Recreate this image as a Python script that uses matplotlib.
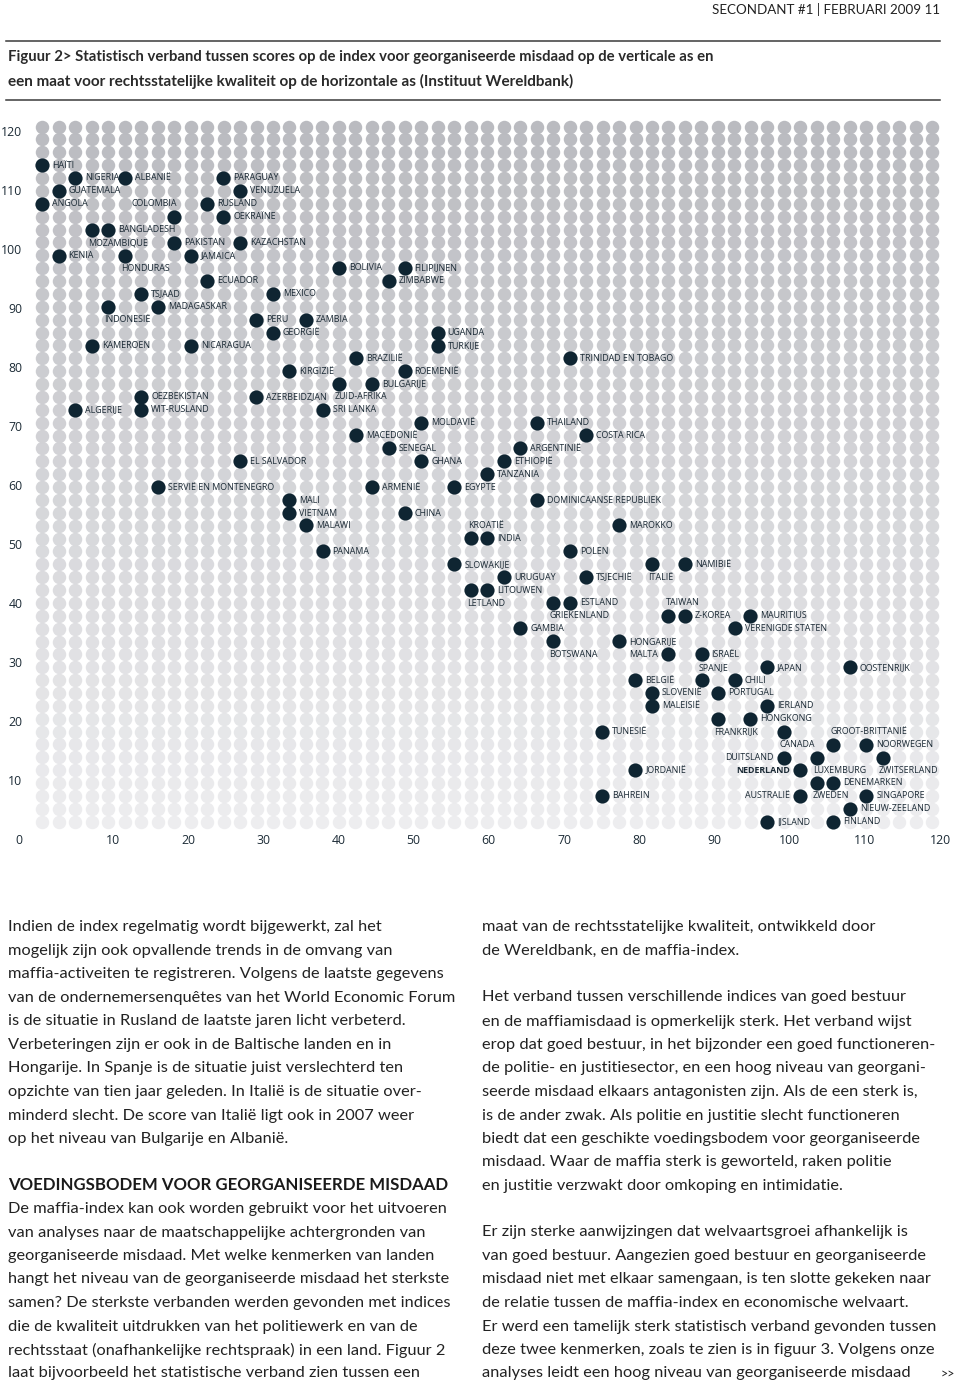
import matplotlib
matplotlib.use("Agg")
import matplotlib.pyplot as plt
from matplotlib.lines import Line2D
import numpy as np

# --- data: rule-of-law score (x) and mafia index (y) per country ---
countries = [
    "HAÏTI", "NIGERIA", "ALBANIË", "PARAGUAY", "GUATEMALA", "VENUZUELA", "ANGOLA",
    "COLOMBIA", "RUSLAND", "OEKRAÏNE", "MOZAMBIQUE", "BANGLADESH", "PAKISTAN",
    "KAZACHSTAN", "KENIA", "HONDURAS", "JAMAICA", "BOLIVIA", "FILIPIJNEN", "ECUADOR",
    "ZIMBABWE", "TSJAAD", "MEXICO", "MADAGASKAR", "INDONESIË", "PERU", "ZAMBIA",
    "GEORGIË", "UGANDA", "KAMEROEN", "NICARAGUA", "TURKIJE", "BRAZILIË",
    "TRINIDAD EN TOBAGO", "KIRGIZIË", "ROEMENIË", "ZUID-AFRIKA", "BULGARIJE",
    "OEZBEKISTAN", "AZERBEIDZJAN", "ALGERIJE", "WIT-RUSLAND", "SRI LANKA", "MOLDAVIË",
    "THAILAND", "MACEDONIË", "COSTA RICA", "SENEGAL", "ARGENTINIË", "EL SALVADOR",
    "GHANA", "ETHIOPIË", "TANZANIA", "SERVIË EN MONTENEGRO", "ARMENIË", "EGYPTE",
    "MALI", "DOMINICAANSE REPUBLIEK", "VIETNAM", "CHINA", "MALAWI", "MAROKKO",
    "KROATIË", "INDIA", "PANAMA", "POLEN", "SLOWAKIJE", "ITALIË", "NAMIBIË",
    "URUGUAY", "TSJECHIË", "LETLAND", "LITOUWEN", "GRIEKENLAND", "ESTLAND", "TAIWAN",
    "Z-KOREA", "MAURITIUS", "GAMBIA", "VERENIGDE STATEN", "BOTSWANA", "HONGARIJE",
    "MALTA", "ISRAËL", "JAPAN", "OOSTENRIJK", "BELGIË", "SPANJE", "CHILI", "SLOVENIË",
    "PORTUGAL", "MALEISIË", "IERLAND", "FRANKRIJK", "HONGKONG", "TUNESIË", "CANADA",
    "GROOT-BRITTANIË", "NOORWEGEN", "DUITSLAND", "LUXEMBURG", "ZWITSERLAND",
    "JORDANIË", "NEDERLAND", "ZWEDEN", "DENEMARKEN", "BAHREIN", "AUSTRALIË",
    "SINGAPORE", "NIEUW-ZEELAND", "IJSLAND", "FINLAND",
]
rule_of_law = [
    0.6, 5.0, 11.6, 24.7, 2.8, 26.9, 0.6,
    18.2, 22.5, 24.7, 7.2, 9.4, 18.2,
    26.9, 2.8, 11.6, 20.4, 40.1, 48.8, 22.5,
    46.7, 13.8, 31.3, 16.0, 9.4, 29.1, 35.7,
    31.3, 53.2, 7.2, 20.4, 53.2, 42.3,
    70.8, 33.5, 48.8, 40.1, 44.5,
    13.8, 29.1, 5.0, 13.8, 37.9, 51.0,
    66.4, 42.3, 72.9, 46.7, 64.2, 26.9,
    51.0, 62.0, 59.8, 16.0, 44.5, 55.4,
    33.5, 66.4, 33.5, 48.8, 35.7, 77.3,
    57.6, 59.8, 37.9, 70.8, 55.4, 81.7, 86.1,
    62.0, 72.9, 57.6, 59.8, 68.6, 70.8, 83.9,
    86.1, 94.8, 64.2, 92.7, 68.6, 77.3,
    83.9, 88.3, 97.0, 108.0, 79.5, 88.3, 92.7, 81.7,
    90.5, 81.7, 97.0, 90.5, 94.8, 75.1, 99.2,
    105.8, 110.2, 99.2, 103.6, 112.4,
    79.5, 101.4, 103.6, 105.8, 75.1, 101.4,
    110.2, 108.0, 97.0, 105.8,
]
mafia_index = [
    114.5, 112.4, 112.4, 112.4, 110.2, 110.2, 108.0,
    105.8, 108.0, 105.8, 103.6, 103.6, 101.4,
    101.4, 99.2, 99.2, 99.2, 97.1, 97.1, 94.9,
    94.9, 92.7, 92.7, 90.5, 90.5, 88.3, 88.3,
    86.1, 86.1, 83.9, 83.9, 83.9, 81.8,
    81.8, 79.6, 79.6, 77.4, 77.4,
    75.2, 75.2, 73.0, 73.0, 73.0, 70.8,
    70.8, 68.7, 68.7, 66.5, 66.5, 64.3,
    64.3, 64.3, 62.1, 59.9, 59.9, 59.9,
    57.7, 57.7, 55.5, 55.5, 53.4, 53.4,
    51.2, 51.2, 49.0, 49.0, 46.8, 46.8, 46.8,
    44.6, 44.6, 42.4, 42.4, 40.3, 40.3, 38.1,
    38.1, 38.1, 35.9, 35.9, 33.7, 33.7,
    31.5, 31.5, 29.3, 29.3, 27.1, 27.1, 27.1, 25.0,
    25.0, 22.8, 22.8, 20.6, 20.6, 18.4, 18.4,
    16.2, 16.2, 14.0, 14.0, 14.0,
    11.8, 11.8, 9.7, 9.7, 7.5, 7.5,
    7.5, 5.3, 3.1, 3.1,
]

# where each label sits relative to its dot (r=right, l=left, b=below, a=above, al=above, right-aligned)
label_side = {
    "COLOMBIA": "al", "MOZAMBIQUE": "b", "HONDURAS": "b", "INDONESIË": "b",
    "ZUID-AFRIKA": "b", "KROATIË": "a", "ITALIË": "b", "LETLAND": "b",
    "GRIEKENLAND": "b", "TAIWAN": "a", "BOTSWANA": "b", "MALTA": "l", "SPANJE": "a",
    "FRANKRIJK": "b", "CANADA": "b", "GROOT-BRITTANIË": "a", "DUITSLAND": "l",
    "LUXEMBURG": "b", "ZWITSERLAND": "b", "NEDERLAND": "l", "ZWEDEN": "b",
    "AUSTRALIË": "l",
}

W, H = 960, 1386
DOT = "#0f2532"
INK = "#1c2b36"
LABEL_FONT = ["Open Sans", "DejaVu Sans"]
BODY_FONT = ["Lato", "DejaVu Sans"]
NARROW = ["Liberation Sans Narrow", "Lato", "DejaVu Sans"]

fig = plt.figure(figsize=(W / 100, H / 100), dpi=100)


def fx(x):
    return x / W


def fy(y):
    return 1 - y / H


def fit(t, width_px):
    # shrink/grow a text so it spans the width seen in the reference
    r = fig.canvas.get_renderer()
    w = t.get_window_extent(r).width
    t.set_fontsize(t.get_fontsize() * width_px / w)


ax = fig.add_axes([fx(37.5), fy(840), 902.5 / W, 707 / H])
ax.set_xlim(0, 120)
ax.set_ylim(0, 120)
ax.axis("off")

# grey dot texture
gx = 0.64 + 2.191 * np.arange(55)
gy = 3.1 + 2.185 * np.arange(55)
top = np.array([186, 187, 192]) / 255
bot = np.array([237, 237, 239]) / 255
for yv in gy:
    t = (yv - gy[0]) / (gy[-1] - gy[0])
    col = bot + (top - bot) * t
    ax.scatter(gx, np.full_like(gx, yv), s=94, color=col, lw=0, clip_on=False, zorder=1)

ax.scatter(rule_of_law, mafia_index, s=104, color=DOT, lw=0, clip_on=False, zorder=3)

offsets = {"r": (10, 0, "left"), "l": (-10, 0, "right"), "b": (-4, -12.9, "left"),
           "a": (-3, 12.9, "left"), "al": (3, 12.9, "right")}
for name, xv, yv in zip(countries, rule_of_law, mafia_index):
    dx, dy, ha = offsets[label_side.get(name, "r")]
    ax.annotate(name, (xv, yv), xytext=(dx * 0.72, dy * 0.72), textcoords="offset points",
                ha=ha, va="center", fontsize=6.4, color=INK, family=LABEL_FONT,
                fontweight="bold" if name == "NEDERLAND" else "normal", zorder=4)

for v in range(10, 130, 10):
    ax.text(v, 0, str(v), ha="center", va="center", fontsize=8.8, color=INK,
            family=LABEL_FONT)
for v in range(0, 130, 10):
    ax.text(-2.0, v, str(v), ha="right", va="center", fontsize=8.8, color=INK,
            family=LABEL_FONT)

# header and title
hdr = fig.text(fx(940), fy(9), "SECONDANT #1 | FEBRUARI 2009 11", ha="right", va="center",
               fontsize=10, color="#222222", family=NARROW)
fit(hdr, 228)
for yy in (41, 100):
    fig.add_artist(Line2D([fx(6), fx(940)], [fy(yy), fy(yy)], color="#3a3a3a", lw=1.1))
t1 = fig.text(fx(8), fy(57), "Figuur 2> Statistisch verband tussen scores op de index voor "
              "georganiseerde misdaad op de verticale as en", ha="left", va="center",
              fontsize=10.8, fontweight="bold", color="#2a2a2a", family=NARROW)
t2 = fig.text(fx(8), fy(81), "een maat voor rechtsstatelijke kwaliteit op de horizontale as "
              "(Instituut Wereldbank)", ha="left", va="center",
              fontsize=10.8, fontweight="bold", color="#2a2a2a", family=NARROW)
fit(t1, 704)
fit(t2, 564)

# body text
left_lines = [
    (926.7, "Indien de index regelmatig wordt bijgewerkt, zal het"),
    (950.7, "mogelijk zijn ook opvallende trends in de omvang van"),
    (974.3, "maffia-activeiten te registreren. Volgens de laatste gegevens"),
    (997.7, "van de ondernemersenquêtes van het World Economic Forum"),
    (1021, "is de situatie in Rusland de laatste jaren licht verbeterd."),
    (1045, "Verbeteringen zijn er ook in de Baltische landen en in"),
    (1068.3, "Hongarije. In Spanje is de situatie juist verslechterd ten"),
    (1092.3, "opzichte van tien jaar geleden. In Italië is de situatie over-"),
    (1115.7, "minderd slecht. De score van Italië ligt ook in 2007 weer"),
    (1139, "op het niveau van Bulgarije en Albanië."),
    (1209.3, "De maffia-index kan ook worden gebruikt voor het uitvoeren"),
    (1232.7, "van analyses naar de maatschappelijke achtergronden van"),
    (1256, "georganiseerde misdaad. Met welke kenmerken van landen"),
    (1279.3, "hangt het niveau van de georganiseerde misdaad het sterkste"),
    (1303.3, "samen? De sterkste verbanden werden gevonden met indices"),
    (1326.7, "die de kwaliteit uitdrukken van het politiewerk en van de"),
    (1350, "rechtsstaat (onafhankelijke rechtspraak) in een land. Figuur 2"),
    (1373.3, "laat bijvoorbeeld het statistische verband zien tussen een"),
]
right_lines = [
    (926.7, "maat van de rechtsstatelijke kwaliteit, ontwikkeld door"),
    (950.7, "de Wereldbank, en de maffia-index."),
    (997.3, "Het verband tussen verschillende indices van goed bestuur"),
    (1021.7, "en de maffiamisdaad is opmerkelijk sterk. Het verband wijst"),
    (1045, "erop dat goed bestuur, in het bijzonder een goed functioneren-"),
    (1068.3, "de politie- en justitiesector, en een hoog niveau van georgani-"),
    (1092.3, "seerde misdaad elkaars antagonisten zijn. Als de een sterk is,"),
    (1115.7, "is de ander zwak. Als politie en justitie slecht functioneren"),
    (1139, "biedt dat een geschikte voedingsbodem voor georganiseerde"),
    (1162.3, "misdaad. Waar de maffia sterk is geworteld, raken politie"),
    (1185.7, "en justitie verzwakt door omkoping en intimidatie."),
    (1232.3, "Er zijn sterke aanwijzingen dat welvaartsgroei afhankelijk is"),
    (1256, "van goed bestuur. Aangezien goed bestuur en georganiseerde"),
    (1279.3, "misdaad niet met elkaar samengaan, is ten slotte gekeken naar"),
    (1303.3, "de relatie tussen de maffia-index en economische welvaart."),
    (1326.7, "Er werd een tamelijk sterk statistisch verband gevonden tussen"),
    (1350, "deze twee kenmerken, zoals te zien is in figuur 3. Volgens onze"),
    (1373.3, "analyses leidt een hoog niveau van georganiseerde misdaad"),
]
for yy, line in left_lines:
    fig.text(fx(8), fy(yy), line, ha="left", va="center", fontsize=11.8,
             color="#222222", family=BODY_FONT)
for yy, line in right_lines:
    fig.text(fx(482), fy(yy), line, ha="left", va="center", fontsize=11.8,
             color="#222222", family=BODY_FONT)
head = fig.text(fx(8), fy(1185), "VOEDINGSBODEM VOOR GEORGANISEERDE MISDAAD", ha="left",
                va="center", fontsize=12, fontweight="bold", color="#1a1a1a",
                family=BODY_FONT)
fit(head, 439)
fig.text(fx(948), fy(1373.3), ">>", ha="center", va="center", fontsize=9,
         color="#222222", family=BODY_FONT)

fig.savefig("out.png", dpi=100)
